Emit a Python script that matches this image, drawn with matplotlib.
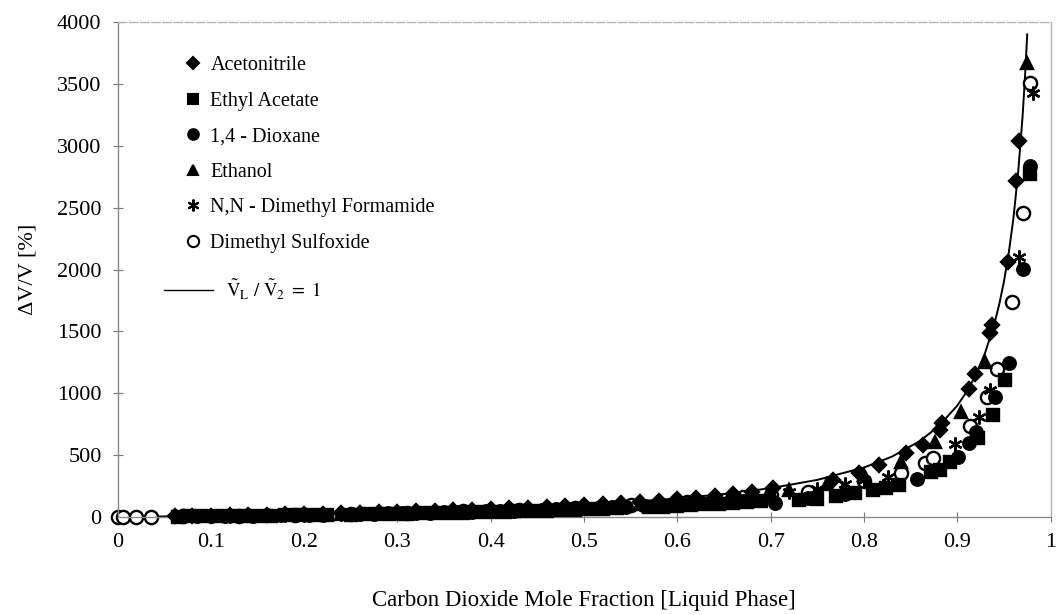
import matplotlib
matplotlib.use("Agg")
import matplotlib.pyplot as plt
from matplotlib.lines import Line2D

plt.rcParams["font.family"] = ["Liberation Serif", "DejaVu Serif"]
plt.rcParams["mathtext.fontset"] = "stix"

# values
acn_x = [0.062, 0.08, 0.10, 0.12, 0.14, 0.16, 0.18, 0.20, 0.22, 0.24, 0.26, 0.28, 0.30, 0.32,
         0.34, 0.36, 0.38, 0.40, 0.42, 0.44, 0.46, 0.48, 0.50, 0.52, 0.54, 0.56, 0.58, 0.60,
         0.62, 0.64, 0.66, 0.68, 0.703, 0.767, 0.795, 0.816, 0.845, 0.863, 0.881, 0.884, 0.913,
         0.919, 0.935, 0.937, 0.954, 0.963, 0.966]
acn_y = [6, 8, 10, 13, 15, 18, 21, 24, 27, 30, 33, 37, 41, 45, 49, 54, 58, 63, 69, 75, 81, 88,
         95, 103, 112, 121, 131, 143, 155, 169, 184, 202, 232, 299, 353, 420, 515, 582, 703, 762,
         1032, 1156, 1484, 1552, 2063, 2715, 3038]

ea_x = [0.065, 0.075, 0.09, 0.105, 0.12, 0.135, 0.15, 0.165, 0.18, 0.195, 0.21, 0.225, 0.25,
        0.265, 0.28, 0.295, 0.31, 0.325, 0.34, 0.355, 0.37, 0.385, 0.40, 0.415, 0.43, 0.445,
        0.46, 0.475, 0.49, 0.505, 0.52, 0.535, 0.57, 0.585, 0.60, 0.615, 0.63, 0.645, 0.66,
        0.675, 0.69, 0.73, 0.75, 0.77, 0.79, 0.81, 0.824, 0.838, 0.872, 0.881, 0.892, 0.922,
        0.938, 0.951, 0.978]
ea_y = [4, 5, 6, 7, 8, 9, 11, 12, 13, 15, 16, 18, 20, 22, 23, 25, 27, 29, 31, 33, 35, 38, 40,
        43, 45, 48, 51, 54, 58, 61, 65, 69, 80, 85, 90, 96, 102, 108, 115, 122, 130, 140, 148,
        170, 195, 215, 232, 259, 366, 380, 447, 636, 824, 1107, 2770]

dx_x = [0.07, 0.085, 0.10, 0.115, 0.13, 0.145, 0.16, 0.175, 0.19, 0.205, 0.22, 0.26, 0.275,
        0.29, 0.305, 0.32, 0.335, 0.35, 0.365, 0.38, 0.395, 0.41, 0.425, 0.44, 0.455, 0.47,
        0.485, 0.50, 0.515, 0.53, 0.545, 0.565, 0.58, 0.595, 0.61, 0.625, 0.64, 0.655, 0.67,
        0.705, 0.74, 0.78, 0.857, 0.901, 0.913, 0.920, 0.940, 0.956, 0.970, 0.978]
dx_y = [5, 6, 7, 8, 10, 11, 13, 15, 16, 18, 20, 25, 27, 29, 31, 33, 35, 38, 40, 43, 45, 49, 52,
        55, 58, 62, 66, 70, 74, 79, 84, 91, 97, 103, 109, 116, 124, 125, 128, 111, 150, 185,
        307, 487, 595, 689, 972, 1242, 2002, 2840]

et_x = [0.24, 0.26, 0.28, 0.30, 0.32, 0.34, 0.36, 0.38, 0.40, 0.42, 0.44, 0.46, 0.48, 0.50,
        0.52, 0.54, 0.56, 0.58, 0.60, 0.62, 0.64, 0.66, 0.68, 0.70, 0.72, 0.76, 0.80, 0.84,
        0.876, 0.904, 0.930, 0.975]
et_y = [27, 30, 33, 36, 40, 44, 48, 52, 57, 62, 67, 72, 78, 85, 92, 100, 108, 117, 127, 138,
        151, 165, 181, 198, 218, 270, 340, 446, 608, 851, 1255, 3666]

dmf_x = [0.10, 0.12, 0.14, 0.16, 0.18, 0.20, 0.22, 0.24, 0.26, 0.28, 0.30, 0.32, 0.34, 0.36,
         0.38, 0.40, 0.42, 0.44, 0.46, 0.48, 0.50, 0.52, 0.54, 0.56, 0.58, 0.60, 0.62, 0.64,
         0.66, 0.68, 0.70, 0.72, 0.75, 0.78, 0.80, 0.826, 0.898, 0.923, 0.935, 0.966, 0.981]
dmf_y = [9, 11, 13, 15, 18, 20, 23, 25, 28, 31, 34, 38, 41, 45, 49, 53, 58, 63, 68, 74, 80, 87,
         94, 102, 110, 120, 130, 142, 155, 170, 186, 205, 225, 270, 300, 326, 590, 810, 1026,
         2103, 3424]

dmso_x = [0.0, 0.006, 0.02, 0.036, 0.07, 0.13, 0.19, 0.25, 0.31, 0.37, 0.43, 0.49, 0.55, 0.61,
          0.64, 0.67, 0.70, 0.74, 0.77, 0.80, 0.84, 0.865, 0.874, 0.914, 0.932, 0.943, 0.959,
          0.970, 0.978]
dmso_y = [0, 0, 0, 0, 6, 12, 18, 26, 35, 46, 60, 76, 97, 124, 140, 160, 180, 200, 240, 290, 353,
          434, 474, 735, 967, 1200, 1740, 2459, 3505]

# V_L / V_2 = 1 line
curve_x = [0.0, 0.05, 0.1, 0.15, 0.2, 0.25, 0.3, 0.35, 0.4, 0.45, 0.5, 0.55, 0.6, 0.65, 0.7, 0.75,
           0.8, 0.83, 0.86, 0.88, 0.9, 0.91, 0.92, 0.93, 0.94, 0.945, 0.95, 0.955, 0.96, 0.965,
           0.97, 0.9725, 0.975]
curve_y = [0, 5, 11, 18, 25, 33, 43, 54, 67, 82, 100, 122, 150, 186, 233, 300, 400, 488, 614, 733,
           900, 1011, 1150, 1329, 1567, 1718, 1900, 2122, 2400, 2757, 3233, 3536, 3900]

x_ticks = [0, 0.1, 0.2, 0.3, 0.4, 0.5, 0.6, 0.7, 0.8, 0.9, 1]
x_tick_labels = ["0", "0.1", "0.2", "0.3", "0.4", "0.5", "0.6", "0.7", "0.8", "0.9", "1"]
y_ticks = [0, 500, 1000, 1500, 2000, 2500, 3000, 3500, 4000]

fig = plt.figure(figsize=(10.59, 6.15), dpi=100)
ax = fig.add_axes([0.111, 0.1593, 0.881, 0.8049])

ax.plot(curve_x, curve_y, color="black", lw=1.4, zorder=1)

series = [
    ("Acetonitrile", acn_x, acn_y, "D", 7.5, "black", 4),
    ("Ethyl Acetate", ea_x, ea_y, "s", 8.5, "black", 3),
    ("1,4 - Dioxane", dx_x, dx_y, "o", 9, "black", 3),
    ("Ethanol", et_x, et_y, "^", 9, "black", 4),
    ("N,N - Dimethyl Formamide", dmf_x, dmf_y, (6, 2, 0), 10, "black", 3),
    ("Dimethyl Sulfoxide", dmso_x, dmso_y, "o", 9.5, "white", 2),
]

handles = []
for name, xs, ys, mk, ms, fc, z in series:
    ax.plot(xs, ys, ls="none", marker=mk, ms=ms, mfc=fc, mec="black", mew=1.7, zorder=z,
            clip_on=False)
    handles.append(Line2D([], [], ls="none", marker=mk, ms=ms * 0.85, mfc=fc, mec="black",
                          mew=1.5, label=name))

leg1 = ax.legend(handles=handles, loc="upper left", bbox_to_anchor=(0.064, 0.947),
                 frameon=False, fontsize=14.5, handlelength=0.8, handletextpad=0.45,
                 labelspacing=0.81, borderaxespad=0)
ax.add_artist(leg1)
line_handle = Line2D([], [], color="black", lw=1.0,
                     label=r"$\tilde{\mathrm{V}}_{\mathrm{L}}\ /\ \tilde{\mathrm{V}}_2\ =\ 1$")
ax.legend(handles=[line_handle], loc="upper left", bbox_to_anchor=(0.042, 0.499),
          frameon=False, fontsize=13.5, handlelength=2.6, handletextpad=0.67, borderaxespad=0)

ax.set_xlim(0, 1)
ax.set_ylim(0, 4000)
ax.set_xticks(x_ticks)
ax.set_xticklabels(x_tick_labels)
ax.set_yticks(y_ticks)
ax.tick_params(direction="inout", length=7, width=0.8, color="#777777", labelsize=16, pad=8)

for side in ["left", "bottom"]:
    ax.spines[side].set_color("#8a8a8a")
    ax.spines[side].set_linewidth(1.0)
for side in ["top", "right"]:
    ax.spines[side].set_color("#b5b5b5")
    ax.spines[side].set_linewidth(1.0)
ax.spines["top"].set_linestyle((0, (6, 2)))

ax.set_xlabel("Carbon Dioxide Mole Fraction [Liquid Phase]", fontsize=16.5, labelpad=27)
ax.set_ylabel("\u0394V/V [%]", fontsize=16, labelpad=14)

fig.savefig("out.png", dpi=100)
